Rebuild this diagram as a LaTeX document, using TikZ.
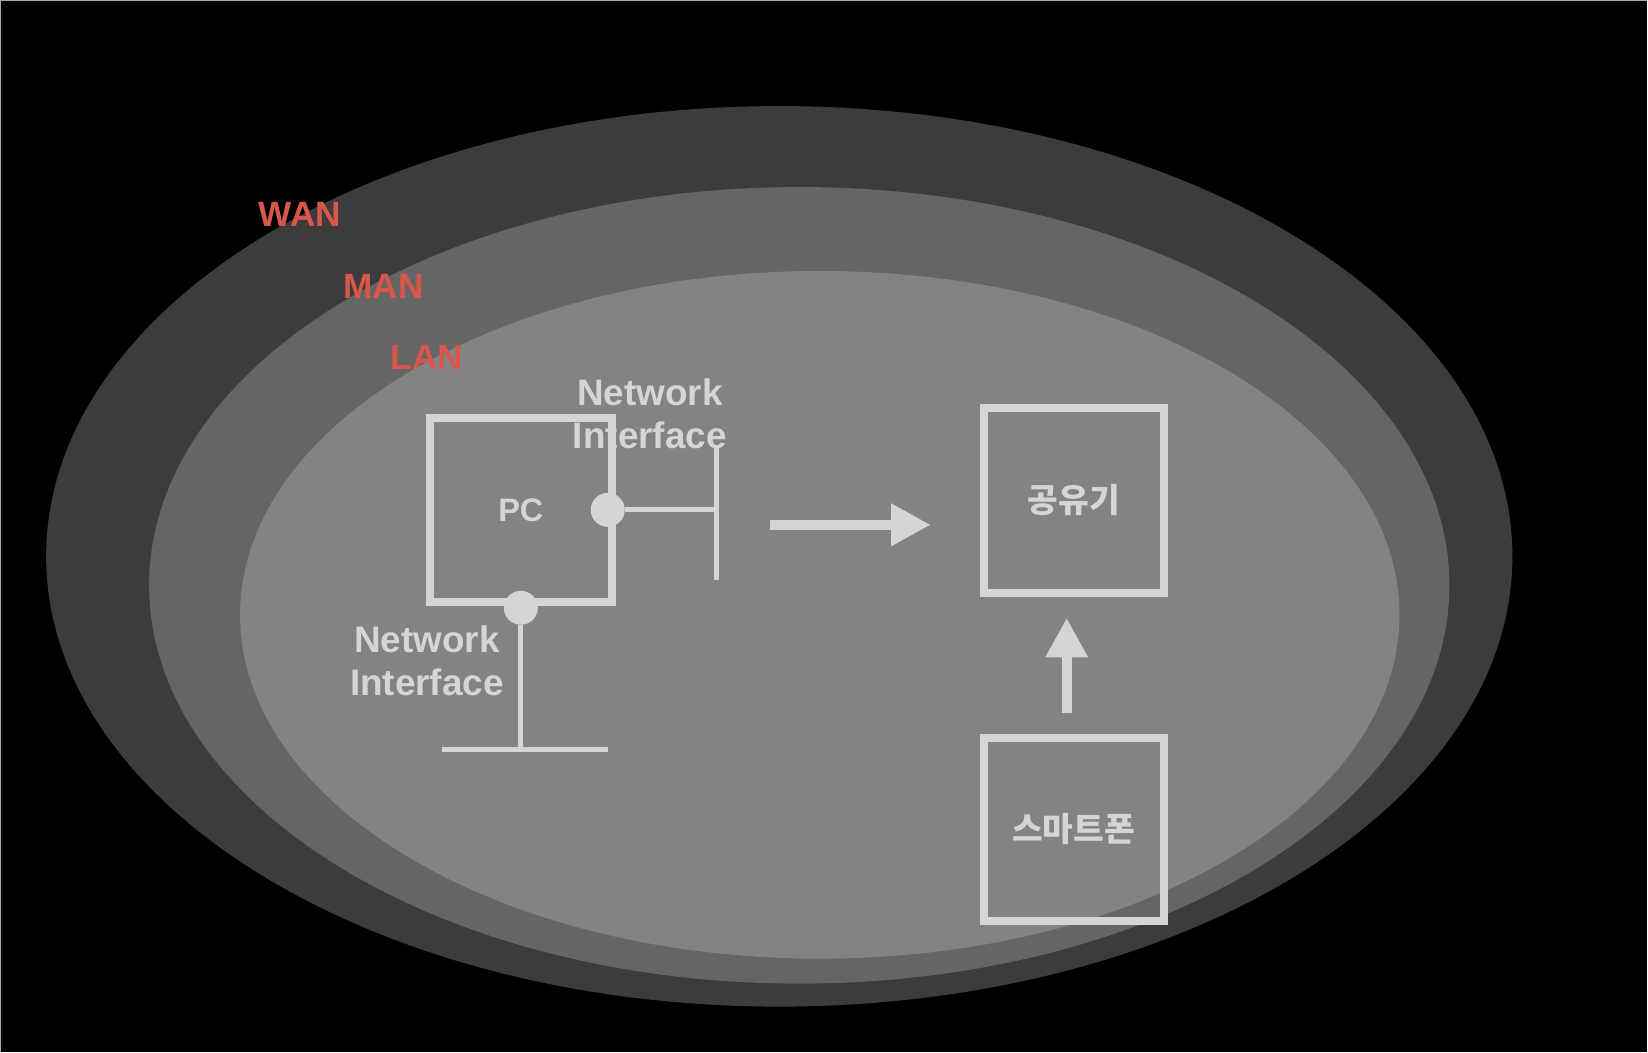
\documentclass[tikz,border=0pt]{standalone}
\usepackage{fontspec}
\setmainfont{Liberation Sans}
\newfontfamily\kofont{Noto Sans CJK KR}
\usetikzlibrary{arrows.meta}
\definecolor{wancol}{HTML}{3C3C3C}
\definecolor{mancol}{HTML}{656565}
\definecolor{lancol}{HTML}{838383}
\definecolor{lightcol}{HTML}{D5D5D5}
\definecolor{labelred}{HTML}{D8574A}

\begin{document}
\begin{tikzpicture}[x=0.02cm, y=-0.02cm,
    netlabel/.style={text=labelred, inner sep=0pt, font=\fontsize{20}{24}\selectfont\bfseries},
    device/.style={draw=lightcol, line width=4.5pt, inner sep=0pt, text=lightcol, font=\fontsize{18.5}{22}\selectfont\bfseries},
    korean/.style={font=\kofont\fontsize{19}{22}\selectfont\bfseries},
    port/.style={circle, fill=lightcol, inner sep=0pt, minimum size=0.68cm},
    wire/.style={draw=lightcol, line width=3pt},
    ifacelabel/.style={align=center, text=lightcol, inner sep=0pt, font=\fontsize{21}{24}\selectfont\bfseries},
    bigarrow/.style={draw=lightcol, line width=5.7pt, -{Triangle[length=22.5pt, width=22.7pt]}}]

    \fill[black] (0,0) rectangle (1648,1052);
    \draw[line width=0.6pt, gray!70] (0.5,1052) -- (0.5,0.5) -- (1648,0.5);

    \fill[wancol] (779.5,556.5) ellipse [x radius=14.67cm, y radius=9.01cm];
    \fill[mancol] (799.5,585.5) ellipse [x radius=13.01cm, y radius=7.97cm];
    \fill[lancol] (820,615) ellipse [x radius=11.6cm, y radius=6.88cm];

    \node[netlabel] (wan) at (300,214) {WAN};
    \node[netlabel] (man) at (383.5,286) {MAN};
    \node[netlabel] (lan) at (427,358) {LAN};

    \node[device, minimum width=3.64cm, minimum height=3.68cm] (pc) at (521,510) {PC};
    \node[device, korean, minimum width=3.6cm, minimum height=3.7cm] (router) at (1074,500.5) {공유기};
    \node[device, korean, minimum width=3.6cm, minimum height=3.66cm] (phone) at (1074,829.5) {스마트폰};

    \node[port] (pcright) at ([xshift=-0.16cm]pc.east) {};
    \node[port] (pcbottom) at ([yshift=-0.04cm]pc.south) {};

    \coordinate (rbartop) at (717,445);
    \coordinate (rbarbot) at (717,580);
    \coordinate (bbarleft) at (442,750);
    \coordinate (bbarright) at (608,750);
    \draw[wire] (rbartop) -- (rbarbot);
    \draw[wire] (pcright) -- (pcright -| rbartop);
    \draw[wire] (bbarleft) -- (bbarright);
    \draw[wire] (pcbottom) -- (pcbottom |- bbarleft);

    \node[ifacelabel] (ifaceright) at (650,414) {Network\\Interface};
    \node[ifacelabel] (ifacebottom) at (427,661) {Network\\Interface};

    \coordinate (rightfrom) at (770,525);
    \coordinate (rightto) at (931,525);
    \coordinate (upfrom) at (1067,713);
    \coordinate (upto) at (1067,618);
    \draw[bigarrow] (rightfrom) -- (rightto);
    \draw[bigarrow] (upfrom) -- (upto);
\end{tikzpicture}
\end{document}
